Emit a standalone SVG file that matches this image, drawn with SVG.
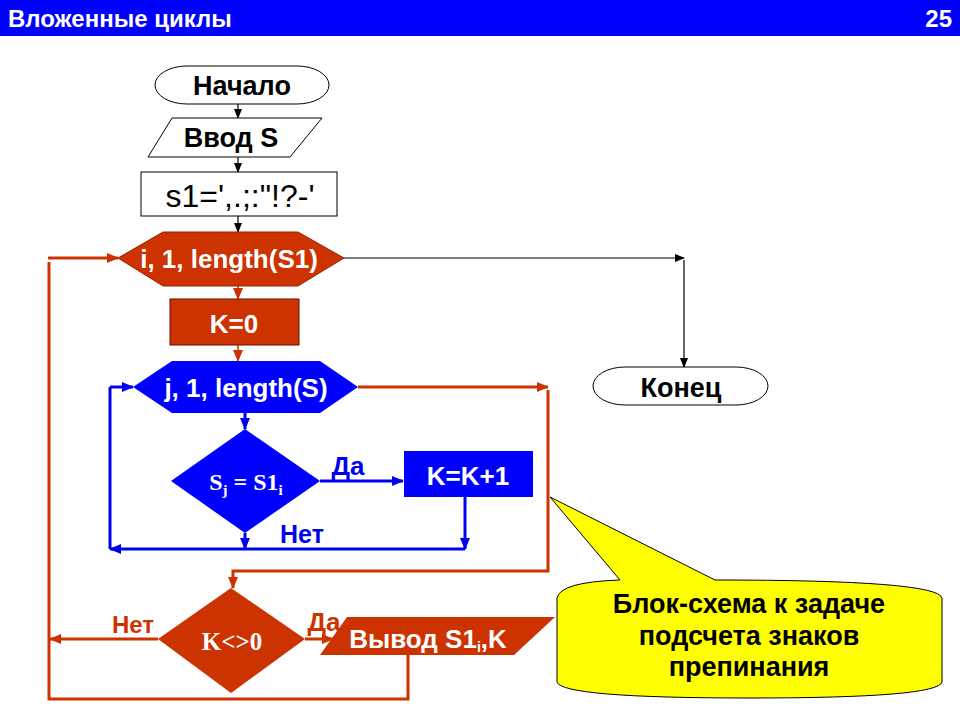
<svg xmlns="http://www.w3.org/2000/svg" width="960" height="720" viewBox="0 0 960 720">
<style>
.t{font-family:"Liberation Sans",Arial,sans-serif;font-weight:bold;text-anchor:middle}
.s{font-family:"Liberation Serif","Times New Roman",serif;font-weight:bold;text-anchor:middle;fill:#fff}
.w{fill:#fff}
.red{fill:#CC3300}
.blue{fill:#0000FF}
.lr{stroke:#CC3300;stroke-width:3;fill:none}
.lb{stroke:#0000EE;stroke-width:3;fill:none}
.lk{stroke:#000;stroke-width:1.2;fill:none}
</style>
<defs>
<marker id="ak" markerWidth="10" markerHeight="10" refX="9" refY="5" orient="auto" markerUnits="userSpaceOnUse"><path d="M0,1 L10,5 L0,9 Z" fill="#000"/></marker>
<marker id="ar" markerWidth="12" markerHeight="10" refX="11" refY="5" orient="auto" markerUnits="userSpaceOnUse"><path d="M0,0 L12,5 L0,10 Z" fill="#CC3300"/></marker>
<marker id="ab" markerWidth="12" markerHeight="10" refX="11" refY="5" orient="auto" markerUnits="userSpaceOnUse"><path d="M0,0 L12,5 L0,10 Z" fill="#0000EE"/></marker>
</defs>
<rect x="0" y="0" width="960" height="36" fill="#0000FF"/>
<text x="8" y="27" font-family="Liberation Sans,Arial,sans-serif" font-weight="bold" font-size="24" fill="#fff">Вложенные циклы</text>
<text x="952" y="27" font-family="Liberation Sans,Arial,sans-serif" font-weight="bold" font-size="24" fill="#fff" text-anchor="end">25</text>

<g id="connectors">
<line class="lk" x1="238" y1="104" x2="238" y2="118" marker-end="url(#ak)"/>
<line class="lk" x1="238" y1="157" x2="238" y2="172" marker-end="url(#ak)"/>
<line class="lk" x1="238" y1="216" x2="238" y2="232" marker-end="url(#ak)"/>
<polyline class="lk" points="344,258 684,258" marker-end="url(#ak)"/>
<polyline class="lk" points="684,260 684,367" marker-end="url(#ak)"/>
<line stroke="#CC3300" stroke-width="1.5" x1="238" y1="286" x2="238" y2="299" marker-end="url(#ar)"/>
<line stroke="#CC3300" stroke-width="1.5" x1="238" y1="345" x2="238" y2="361" marker-end="url(#ar)"/>
<line class="lb" x1="245" y1="413" x2="245" y2="429" marker-end="url(#ab)"/>
<line class="lb" x1="320" y1="481" x2="403" y2="481" marker-end="url(#ab)"/>
<line class="lb" x1="465" y1="497" x2="465" y2="549" marker-end="url(#ab)"/>
<line class="lb" x1="245" y1="533" x2="245" y2="549" marker-end="url(#ab)"/>
<line class="lb" x1="465" y1="549" x2="110" y2="549" marker-end="url(#ab)"/>
<polyline class="lb" points="110,549 110,387"/>
<line class="lb" x1="110" y1="387" x2="133" y2="387" marker-end="url(#ab)"/>
<line class="lr" x1="358" y1="387" x2="548" y2="387" marker-end="url(#ar)"/>
<polyline class="lr" points="548,390 548,571 233,571 233,588" marker-end="url(#ar)"/>
<line class="lr" x1="158" y1="639" x2="50" y2="639" marker-end="url(#ar)"/>
<line class="lr" x1="305" y1="639" x2="333" y2="639" marker-end="url(#ar)"/>
<polyline class="lr" points="408,655 408,699 49,699 49,262"/>
<line class="lr" x1="48" y1="258" x2="118" y2="258" marker-end="url(#ar)"/>
</g>

<g id="start">
<rect x="155" y="66" width="174" height="38" rx="32" ry="19" fill="#fff" stroke="#000" stroke-width="1"/>
<text class="t" x="242" y="95" font-size="27">Начало</text>
</g>
<g id="input">
<polygon points="172,118 322,118 290,157 148,157" fill="#fff" stroke="#000" stroke-width="1"/>
<text class="t" x="231" y="147" font-size="27">Ввод S</text>
</g>
<g id="assign">
<rect x="141" y="172" width="196" height="44" fill="#fff" stroke="#000" stroke-width="1"/>
<text x="240" y="207" font-family="Liberation Sans,Arial,sans-serif" font-size="32" text-anchor="middle">s1=',.;:"!?-'</text>
</g>
<g id="loopI">
<polygon class="red" points="118,258 163,232 298,232 344,258 298,286 163,286" stroke="#992200" stroke-width="1"/>
<text class="t w" x="229" y="268" font-size="26">i, 1, length(S1)</text>
</g>
<g id="k0">
<rect class="red" x="170" y="299" width="129" height="46" stroke="#661100" stroke-width="1"/>
<text class="t w" x="234" y="333" font-size="26">K=0</text>
</g>
<g id="loopJ">
<polygon class="blue" points="133,387 172,361 320,361 358,387 320,413 172,413"/>
<text class="t w" x="246" y="397" font-size="26">j, 1, length(S)</text>
</g>
<g id="cond1">
<polygon class="blue" points="245,429 320,481 245,533 171,481"/>
<text class="s" x="246" y="490" font-size="24">S<tspan font-size="15" dy="5">j</tspan><tspan dy="-5"> = S1</tspan><tspan font-size="15" dy="5">i</tspan></text>
</g>
<g id="inc">
<rect class="blue" x="404" y="451" width="129" height="46"/>
<text class="t w" x="468" y="485" font-size="26">K=K+1</text>
</g>
<g id="labels1">
<text class="t" x="348" y="475" font-size="26" fill="#0000EE">Да</text>
<text class="t" x="302" y="543" font-size="25" fill="#0000EE">Нет</text>
</g>
<g id="cond2">
<polygon class="red" points="231,588 305,639 231,693 158,639"/>
<text class="s" x="232" y="650" font-size="25">K&lt;&gt;0</text>
</g>
<g id="labels2">
<text class="t" x="133" y="633" font-size="24" fill="#CC3300">Нет</text>
<text class="t" x="324" y="631" font-size="26" fill="#CC3300">Да</text>
</g>
<g id="output">
<polygon class="red" points="347,617 555,617 514,655 320,655"/>
<text class="t w" x="428" y="648" font-size="26">Вывод S1<tspan font-size="14" dy="4">i</tspan><tspan dy="-4">,K</tspan></text>
</g>
<g id="end">
<rect x="593" y="367" width="175" height="38" rx="32" ry="19" fill="#fff" stroke="#000" stroke-width="1"/>
<text class="t" x="681" y="397" font-size="27">Конец</text>
</g>
<g id="callout">
<path d="M557,598 Q560,582 620,580 L550,497 L715,580 Q938,580 942,598 L942,682 Q938,698 750,698 Q562,698 557,682 Z" fill="#FFFF00" stroke="#000" stroke-width="1"/>
<text class="t" x="749" y="613" font-size="27">Блок-схема к задаче</text>
<text class="t" x="749" y="645" font-size="27">подсчета знаков</text>
<text class="t" x="749" y="676" font-size="27">препинания</text>
</g>
</svg>
